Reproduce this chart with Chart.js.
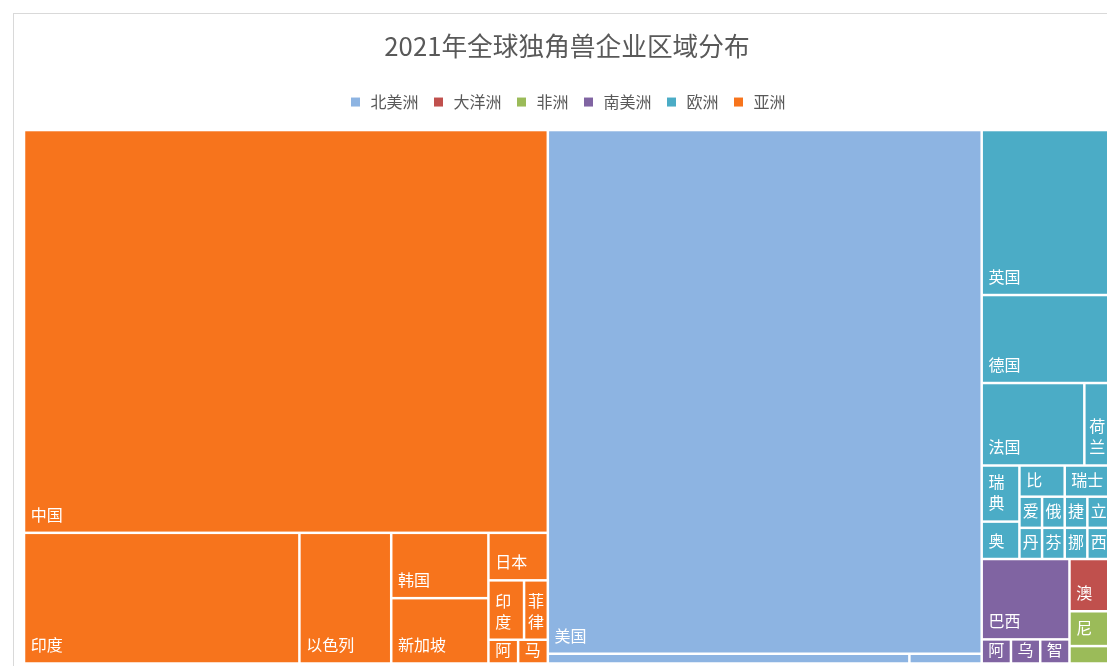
<!DOCTYPE html>
<html>
<head>
<meta charset="utf-8">
<script src="https://cdn.jsdelivr.net/npm/chart.js@4.4.1/dist/chart.umd.min.js"></script>
<style>
  html, body { margin: 0; padding: 0; background: #ffffff; overflow: hidden; width: 1107px; height: 666px; }
  #wrap { position: absolute; left: 0; top: 0; width: 1134px; height: 692px; }
  #card { position: absolute; left: 13px; top: 13px; width: 1108px; height: 700px; border: 1px solid #d9d9d9; box-sizing: border-box; }
  #chart { position: absolute; left: 0; top: 0; }
</style>
</head>
<body>
<div id="wrap"><div id="card"></div><canvas id="chart"></canvas></div>
<script>
// ---------------- data ----------------
const chartTitle = '2021年全球独角兽企业区域分布';
const continents = ['北美洲', '大洋洲', '非洲', '南美洲', '欧洲', '亚洲'];
const continentColors = ['#8DB4E2', '#C0504D', '#9BBB59', '#8064A2', '#4BACC6', '#F7741C'];

const northAmericaCountries = ['美国', '加拿大', '墨西哥'];
const northAmericaValues = [322, 5, 1];

const oceaniaCountries = ['澳大利亚'];
const oceaniaValues = [3];

const africaCountries = ['尼日利亚', '南非'];
const africaValues = [2, 1];

const southAmericaCountries = ['巴西', '阿根廷', '乌拉圭', '智利'];
const southAmericaValues = [10, 1, 1, 1];

const europeCountries = ['英国', '德国', '法国', '荷兰', '瑞典', '奥地利', '比利时', '瑞士',
  '爱尔兰', '丹麦', '俄罗斯', '芬兰', '捷克', '立陶宛', '挪威', '西班牙'];
const europeValues = [30, 16, 12, 3, 3, 2, 2, 2, 1, 1, 1, 1, 1, 1, 1, 1];

const asiaCountries = ['中国', '印度', '以色列', '韩国', '新加坡', '日本', '印度尼西亚', '菲律宾', '阿联酋', '马来西亚'];
const asiaValues = [299, 51, 17, 9, 9, 4, 3, 2, 1, 1];

const countriesByContinent = [northAmericaCountries, oceaniaCountries, africaCountries, southAmericaCountries, europeCountries, asiaCountries];
const valuesByContinent = [northAmericaValues, oceaniaValues, africaValues, southAmericaValues, europeValues, asiaValues];

// ---------------- layout settings ----------------
const LAYOUT_W = 1086;      // plot area in scale units (1 unit = 1 px)
const LAYOUT_H = 533.5;
const SQUARE_RATIO = 1;
const PAIR_TOLERANCE = 1.78; // a row accepts its 2nd item unless it gets much worse
const GAP = 2.5;
const FONT = '"Noto Sans CJK SC", "Noto Sans", sans-serif';

// squarified treemap (values -> rectangles in scale units)
function worst(row, rowArea, fixed, ratio) {
  let mx = 0, mn = Infinity;
  row.forEach(n => { if (n.area > mx) mx = n.area; if (n.area < mn) mn = n.area; });
  const sq = rowArea * rowArea;
  const f = fixed * fixed * ratio;
  return sq ? Math.max(f * mx / sq, sq / (f * mn)) : Infinity;
}
function position(row, rowArea, fixed, r, flush) {
  const horizontal = fixed === r.w;
  let other = fixed ? rowArea / fixed : 0;
  const avail = horizontal ? r.h : r.w;
  if (flush || other > avail) other = avail;
  let cursor = horizontal ? r.x : r.y;
  const end = horizontal ? r.x + r.w : r.y + r.h;
  row.forEach((n, i) => {
    let step = other ? n.area / other : 0;
    const remain = end - cursor;
    if (i === row.length - 1 || remain < step) step = remain;
    if (horizontal) { n.x0 = cursor; n.x1 = cursor + step; n.y0 = r.y; n.y1 = r.y + other; }
    else { n.y0 = cursor; n.y1 = cursor + step; n.x0 = r.x; n.x1 = r.x + other; }
    cursor += step;
  });
  if (horizontal) { r.y += other; r.h -= other; } else { r.x += other; r.w -= other; }
}
function squarify(items, rect) {
  const nodes = items.slice().sort((a, b) => b.value - a.value);
  const total = nodes.reduce((s, n) => s + n.value, 0);
  const k = rect.w * rect.h / total;
  nodes.forEach(n => { n.area = n.value * k; });
  const r = { x: rect.x, y: rect.y, w: rect.w, h: rect.h };
  let row = [], rowArea = 0, best = Infinity, fixed = Math.min(r.w, r.h);
  for (let i = 0; i < nodes.length;) {
    const n = nodes[i];
    row.push(n); rowArea += n.area;
    const score = worst(row, rowArea, fixed, SQUARE_RATIO);
    const limit = row.length === 2 ? best * PAIR_TOLERANCE : best;
    if (score <= limit) { i++; best = score; }
    else {
      row.pop(); rowArea -= n.area;
      position(row, rowArea, fixed, r, false);
      fixed = Math.min(r.w, r.h);
      row = []; rowArea = 0; best = Infinity;
    }
  }
  if (row.length) position(row, rowArea, fixed, r, true);
  return nodes;
}

// top level: continents, then countries inside each continent
const groups = continents.map((name, i) => ({
  index: i, name,
  value: valuesByContinent[i].reduce((s, v) => s + v, 0)
}));
squarify(groups, { x: 0, y: 0, w: LAYOUT_W, h: LAYOUT_H });
const cellsByContinent = continents.map(() => []);
groups.forEach(g => {
  const items = countriesByContinent[g.index].map((c, j) => ({ name: c, value: valuesByContinent[g.index][j] }));
  squarify(items, { x: g.x0, y: g.y0, w: g.x1 - g.x0, h: g.y1 - g.y0 });
  items.forEach(it => cellsByContinent[g.index].push({
    x: (it.x0 + it.x1) / 2, y: (it.y0 + it.y1) / 2,
    x0: it.x0, x1: it.x1, y0: it.y0, y1: it.y1, name: it.name, value: it.value
  }));
});

// ---------------- drawing plugins ----------------
const treemapCells = {
  id: 'treemapCells',
  afterDatasetsDraw(chart) {
    const { ctx } = chart;
    const xs = chart.scales.x, ys = chart.scales.y;
    ctx.save();
    chart.data.datasets.forEach(ds => {
      ds.data.forEach(c => {
        const l = xs.getPixelForValue(c.x0) + GAP / 2;
        const r = xs.getPixelForValue(c.x1) - GAP / 2;
        const t = ys.getPixelForValue(c.y0) + GAP / 2;
        const b = ys.getPixelForValue(c.y1) - GAP / 2;
        const w = r - l, h = b - t;
        if (w <= 0 || h <= 0) return;
        ctx.fillStyle = ds.backgroundColor;
        ctx.fillRect(l, t, w, h);
        // label
        if (h < 18 || w < 14) return;
        ctx.font = '16px ' + FONT;
        ctx.fillStyle = '#ffffff';
        ctx.textBaseline = 'middle';
        ctx.textAlign = 'left';
        let lines;
        if (ctx.measureText(c.name).width <= w - 10) lines = [c.name];
        else {
          const maxLines = Math.max(1, Math.floor((h - 10) / 21));
          lines = Array.from(c.name).slice(0, maxLines);
        }
        const tw = Math.max(...lines.map(s => ctx.measureText(s).width));
        const tx = l + Math.max(0, Math.min(5.5, (w - tw) / 2));
        const lastY = Math.max(b - 17, (t + b) / 2 - 1.5);
        lines.forEach((s, i) => {
          ctx.fillText(s, tx, lastY - (lines.length - 1 - i) * 21);
        });
      });
    });
    ctx.restore();
  }
};
const legendSpacing = {
  id: 'legendSpacing',
  beforeLayout(chart) {
    const lg = chart.legend;
    if (lg && !lg._extraPatched) {
      const fit = lg.fit;
      lg.fit = function () { fit.call(this); this.height += 10; };
      lg._extraPatched = true;
    }
  }
};

// ---------------- chart ----------------
new Chart(document.getElementById('chart'), {
  type: 'scatter',
  data: {
    datasets: continents.map((name, i) => ({
      label: name,
      data: cellsByContinent[i],
      backgroundColor: continentColors[i],
      borderColor: continentColors[i],
      borderWidth: 0,
      pointRadius: 0,
      pointHoverRadius: 0,
      pointStyle: 'rect'
    }))
  },
  options: {
    responsive: true,
    maintainAspectRatio: false,
    animation: false,
    events: [],
    layout: { padding: { left: 24, right: 24, top: 0, bottom: 28.5 } },
    scales: {
      x: { type: 'linear', min: 0, max: LAYOUT_W, display: false },
      y: { type: 'linear', min: 0, max: LAYOUT_H, reverse: true, display: false }
    },
    plugins: {
      title: {
        display: true,
        text: chartTitle,
        color: '#595959',
        font: { family: FONT, size: 25.7, weight: 'normal', lineHeight: 1.2 },
        padding: { top: 30.6, bottom: 19.6 }
      },
      legend: {
        display: true,
        position: 'top',
        labels: {
          color: '#595959',
          font: { family: FONT, size: 16 },
          usePointStyle: true,
          pointStyle: 'rect',
          boxWidth: 14,
          boxHeight: 9,
          padding: 13
        }
      },
      tooltip: { enabled: false }
    }
  },
  plugins: [legendSpacing, treemapCells]
});
</script>
</body>
</html>
